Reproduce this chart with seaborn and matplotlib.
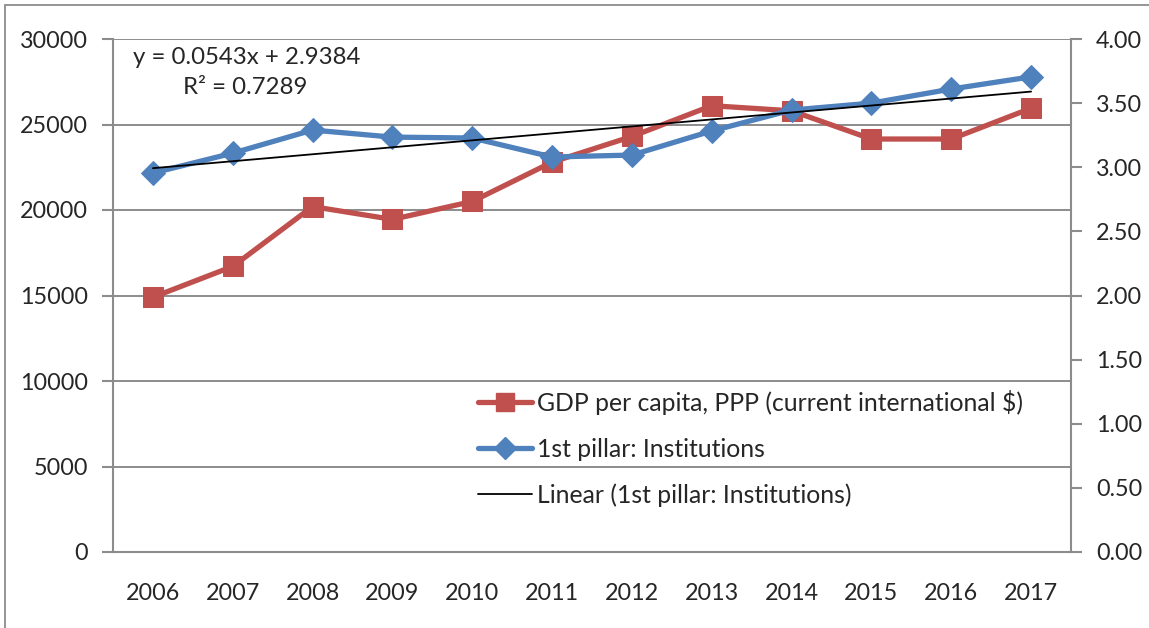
import numpy as np
import pandas as pd
import matplotlib
matplotlib.use("Agg")
import matplotlib.pyplot as plt
import seaborn as sns
from matplotlib.patches import Rectangle
from matplotlib.lines import Line2D

years = ["2006", "2007", "2008", "2009", "2010", "2011", "2012", "2013", "2014", "2015", "2016", "2017"]
gdp_ppp = [14900, 16700, 20200, 19450, 20500, 22800, 24300, 26100, 25800, 24150, 24150, 25950]
institutions = [2.955, 3.11, 3.29, 3.235, 3.228, 3.08, 3.095, 3.283, 3.446, 3.50, 3.61, 3.705]
trend_slope = 0.0543
trend_intercept = 2.9384
eq_text = "y = 0.0543x + 2.9384"
r2_text = "R² = 0.7289"
left_ticks = [0, 5000, 10000, 15000, 20000, 25000, 30000]
right_ticks = [0.0, 0.5, 1.0, 1.5, 2.0, 2.5, 3.0, 3.5, 4.0]
label_gdp = "GDP per capita, PPP (current international $)"
label_inst = "1st pillar: Institutions"
label_lin = "Linear (1st pillar: Institutions)"

sns.set_style("white")
plt.rcParams['font.family'] = ['Lato', 'DejaVu Sans']

RED = "#C0504D"
BLUE = "#4F81BD"
GRID = "#8C8C8C"
FS = 16.8
LFS = 17.8

df = pd.DataFrame({"idx": np.arange(len(years)), "gdp": gdp_ppp, "inst": institutions})
df["trend"] = trend_intercept + trend_slope * (df["idx"] + 1)

fig = plt.figure(figsize=(11.49, 6.28), dpi=100)
W, H = 1149, 628
ax = fig.add_axes([113 / W, 1 - 552 / H, (1071 - 113) / W, (552 - 39) / H])
fig.patches.append(Rectangle((5 / W, -0.1), 1.2, 1 - 5 / H + 0.1, transform=fig.transFigure,
                             fill=False, edgecolor="#8C8C8C", linewidth=1.3))

sns.lineplot(data=df, x="idx", y="gdp", ax=ax, color=RED, linewidth=3.8, marker="s",
             markersize=14, markeredgecolor=RED, zorder=3, legend=False)
ax.set_ylim(0, 30000)
ax.set_xlim(-0.5, len(years) - 0.5)
ax.set_yticks(left_ticks)
ax.set_yticklabels([str(v) for v in left_ticks], fontsize=FS)
ax.set_xticks(np.arange(-0.5, len(years), 1.0))
ax.set_xticklabels([])
ax.set_xticks(np.arange(len(years)), minor=True)
ax.set_xticklabels(years, minor=True, fontsize=FS)
ax.tick_params(axis="x", which="minor", length=0, pad=22)
ax.tick_params(axis="x", which="major", length=8, width=1.5, color=GRID, direction="out")
ax.tick_params(axis="y", length=8, width=1.5, color=GRID, direction="out", pad=10)
ax.grid(axis="y", color=GRID, linewidth=1.4)
ax.set_axisbelow(True)
ax.set_xlabel("")
ax.set_ylabel("")
for s in ["top", "right"]:
    ax.spines[s].set_visible(False)
for s in ["left", "bottom"]:
    ax.spines[s].set_color(GRID)
    ax.spines[s].set_linewidth(1.5)

ax2 = ax.twinx()
sns.lineplot(data=df, x="idx", y="inst", ax=ax2, color=BLUE, linewidth=3.8, marker="D",
             markersize=12, markeredgecolor=BLUE, zorder=3, legend=False)
sns.lineplot(data=df, x="idx", y="trend", ax=ax2, color="black", linewidth=1.3, zorder=4, legend=False)
ax2.set_ylim(0, 4)
ax2.set_yticks(right_ticks)
ax2.set_yticklabels([f"{v:.2f}" for v in right_ticks], fontsize=FS)
ax2.tick_params(axis="y", length=8, width=1.5, color=GRID, direction="out", pad=10)
ax2.set_ylabel("")
ax2.grid(False)
for s in ["top", "left", "bottom"]:
    ax2.spines[s].set_visible(False)
ax2.spines["right"].set_color(GRID)
ax2.spines["right"].set_linewidth(1.5)

fig.text(133 / W, 1 - 57 / H, eq_text, fontsize=17.3, va="center", ha="left")
fig.text(183 / W, 1 - 88 / H, r2_text, fontsize=17.3, va="center", ha="left")

handles = [
    Line2D([], [], color=RED, linewidth=3.8, marker="s", markersize=13),
    Line2D([], [], color=BLUE, linewidth=3.8, marker="D", markersize=11),
    Line2D([], [], color="black", linewidth=1.3),
]
leg = ax2.legend(handles, [label_gdp, label_inst, label_lin], loc="upper left",
                 bbox_to_anchor=(468 / W, 1 - 380 / H), bbox_transform=fig.transFigure,
                 frameon=False, fontsize=LFS, handlelength=2.2, handletextpad=0.2,
                 labelspacing=0.92, borderaxespad=0)

fig.savefig("out.png", dpi=100)
